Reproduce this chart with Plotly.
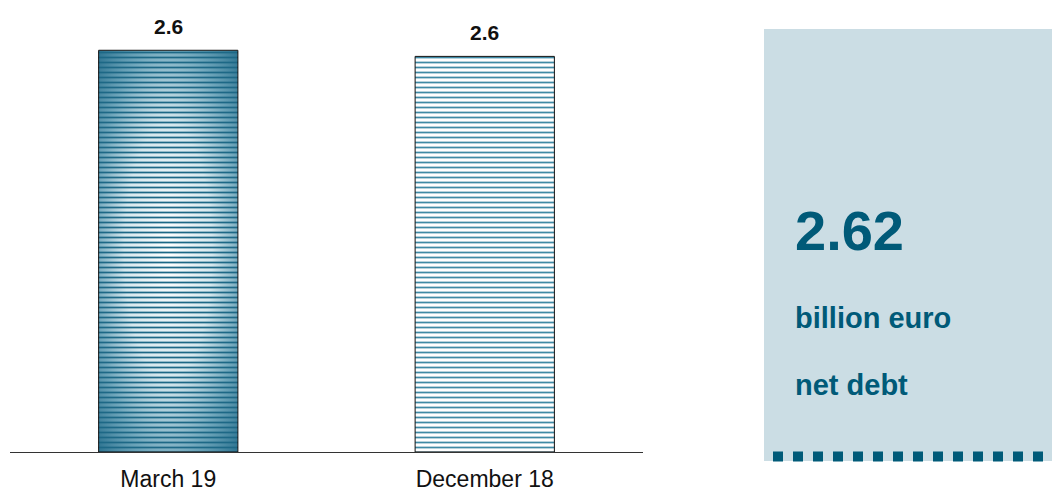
import base64
import plotly.graph_objects as go

# Net debt, billion euro
periods = ["March 19", "December 18"]
net_debt = [2.62, 2.58]
headline_value = "2.62"
headline_unit = "billion euro"
headline_label = "net debt"

W, H = 1052, 492
TEAL = "#005a78"
PANEL = "#cbdde4"

bar_width = 0.44
y_max = 2.85
stripe_colors = ["#1d6886", "#3f8aa5"]
fill_colors = ["rgba(0,0,0,0)", "#ffffff"]

# Soft teal radial shading used behind the first bar
grad_svg = (
    '<svg xmlns="http://www.w3.org/2000/svg" width="100" height="100" preserveAspectRatio="none">'
    '<defs><radialGradient id="g" cx="50%" cy="50%" r="70%">'
    '<stop offset="0" stop-color="#ffffff"/>'
    '<stop offset="0.45" stop-color="#d6e8ee"/>'
    '<stop offset="0.75" stop-color="#6fa6bb"/>'
    '<stop offset="1" stop-color="#2f7592"/>'
    '</radialGradient></defs>'
    '<rect width="100" height="100" fill="url(#g)"/></svg>'
)
grad_src = "data:image/svg+xml;base64," + base64.b64encode(grad_svg.encode()).decode()

fig = go.Figure()
for p, v, fg, fc in zip(periods, net_debt, stripe_colors, fill_colors):
    fig.add_trace(go.Bar(
        x=[p],
        y=[v],
        width=bar_width,
        marker=dict(
            color=fc,
            line=dict(color="#111111", width=1),
            pattern=dict(shape="-", fillmode="replace", fgcolor=fg,
                         bgcolor=fc, size=5, solidity=0.35),
        ),
        hoverinfo="skip",
        showlegend=False,
    ))

# Gradient backdrop sized from the first bar's value
fig.add_layout_image(dict(
    source=grad_src,
    xref="x", yref="y",
    x=0 - bar_width / 2, y=net_debt[0],
    sizex=bar_width, sizey=net_debt[0],
    xanchor="left", yanchor="top",
    sizing="stretch",
    layer="below",
))

# Value labels above bars
for p, v in zip(periods, net_debt):
    fig.add_annotation(
        x=p, y=v, xref="x", yref="y",
        text=f"{v:.1f}", showarrow=False,
        yanchor="bottom", yshift=10,
        font=dict(family="Liberation Sans", size=21, color="#111111", weight="bold"),
    )

# Right-hand summary panel
px = lambda v: v / W
py = lambda v: 1 - v / H
fig.add_shape(type="rect", xref="paper", yref="paper",
              x0=px(764), x1=1.0, y0=py(461), y1=py(29),
              fillcolor=PANEL, line=dict(width=0), layer="below")
fig.add_shape(type="line", xref="paper", yref="paper",
              x0=px(773), x1=px(1043), y0=py(456.5), y1=py(456.5),
              line=dict(color=TEAL, width=10, dash="10px,10px"))

fig.add_annotation(xref="paper", yref="paper", x=px(793), y=py(230),
                   text=headline_value, showarrow=False, xanchor="left", yanchor="middle",
                   font=dict(family="Liberation Sans", size=56, color=TEAL, weight="bold"))
fig.add_annotation(xref="paper", yref="paper", x=px(793), y=py(318),
                   text=headline_unit, showarrow=False, xanchor="left", yanchor="middle",
                   font=dict(family="Liberation Sans", size=29, color=TEAL, weight="bold"))
fig.add_annotation(xref="paper", yref="paper", x=px(793), y=py(385),
                   text=headline_label, showarrow=False, xanchor="left", yanchor="middle",
                   font=dict(family="Liberation Sans", size=29, color=TEAL, weight="bold"))

fig.update_layout(
    width=W, height=H,
    margin=dict(l=0, r=0, t=0, b=0, autoexpand=False),
    paper_bgcolor="#ffffff",
    plot_bgcolor="rgba(0,0,0,0)",
    xaxis=dict(
        domain=[px(10), px(643)],
        range=[-0.5, 1.5],
        automargin=False,
        showline=True, linecolor="#333333", linewidth=1,
        showgrid=False, zeroline=False, ticks="",
        ticklabelstandoff=6,
        tickfont=dict(family="Liberation Sans", size=23, color="#111111"),
        fixedrange=True,
    ),
    yaxis=dict(
        domain=[40 / H, 1 - 15 / H],
        range=[0, y_max],
        automargin=False,
        visible=False, showgrid=False, zeroline=False,
        fixedrange=True,
    ),
)

fig.write_html("out.html")
